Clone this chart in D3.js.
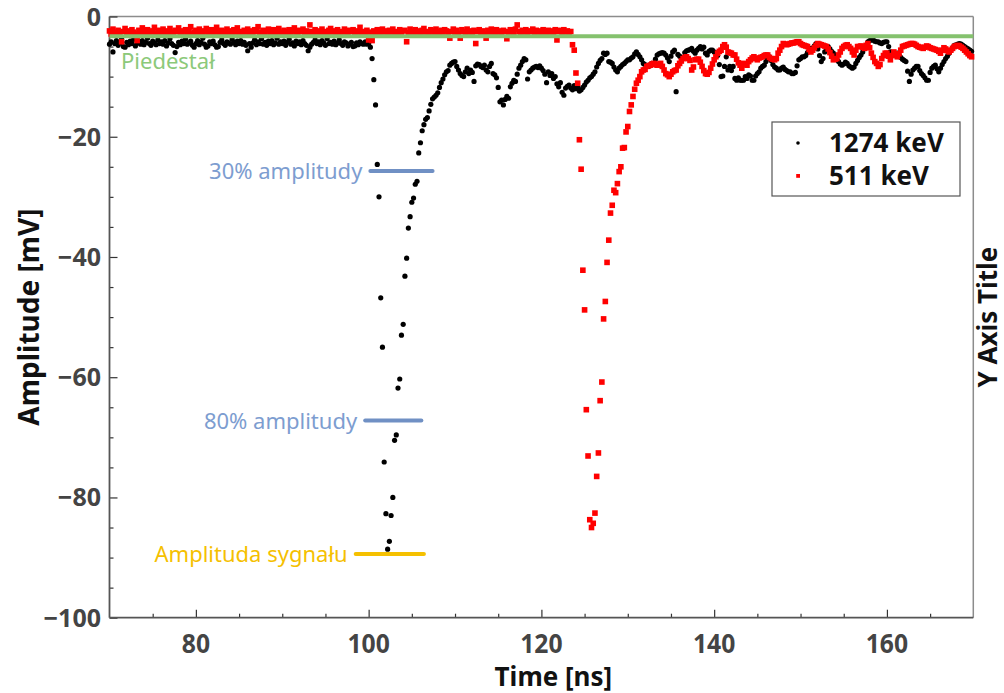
<!DOCTYPE html>
<html>
<head>
<meta charset="utf-8">
<script src="https://cdn.jsdelivr.net/npm/d3@7"></script>
<style>
  body { margin: 0; background: #fff; }
  text { font-family: "Noto Sans", sans-serif; }
</style>
</head>
<body>
<div id="chart"></div>
<script>
// sampling grid (ns) of the digitizer
const tStart = 70;
const tStep = 0.2;

// 1274 keV pulse, amplitude in mV, one value per sample
const signal1274 = [
  -4.6,-4.2,-5.9,-4.5,-4.0,-4.8,-4.4,-3.7,-5.0,-5.1,
  -4.3,-4.7,-4.1,-4.5,-3.8,-4.9,-4.4,-4.2,-4.6,-4.0,
  -4.7,-4.3,-3.6,-4.5,-4.8,-4.1,-4.4,-4.7,-3.9,-4.5,
  -4.2,-4.6,-4.0,-4.9,-4.4,-3.7,-4.5,-4.8,-6.0,-5.0,
  -4.3,-4.7,-4.1,-4.5,-3.8,-4.6,-4.4,-4.1,-4.8,-5.1,
  -4.5,-4.0,-4.7,-4.3,-3.6,-4.6,-5.1,-4.9,-4.2,-4.5,
  -4.1,-4.7,-5.1,-5.0,-4.3,-3.9,-4.5,-4.8,-4.2,-4.4,
  -4.6,-3.8,-4.3,-4.7,-4.1,-4.5,-4.0,-4.6,-4.3,-4.8,
  -5.7,-4.5,-5.1,-4.4,-3.9,-4.7,-4.2,-4.5,-3.7,-4.6,
  -4.3,-4.8,-4.1,-4.5,-4.0,-4.7,-4.4,-3.6,-4.6,-4.2,
  -4.5,-4.1,-4.8,-4.3,-3.8,-4.6,-4.4,-4.9,-4.1,-4.5,
  -4.2,-4.7,-4.0,-4.5,-4.8,-5.7,-5.1,-4.6,-4.3,-3.9,
  -4.5,-4.2,-4.7,-4.0,-4.4,-4.8,-3.7,-4.5,-4.3,-4.6,
  -4.1,-4.7,-4.4,-3.9,-4.5,-4.8,-4.2,-4.4,-4.9,-4.6,
  -4.3,-5.0,-4.9,-4.4,-4.7,-4.2,-4.5,-4.6,-4.2,-4.6,
  -4.5,-5.1,-7.0,-10.5,-14.7,-24.6,-30.0,-46.8,-55.0,-74.1,
  -82.7,-88.6,-87.3,-83.0,-80.0,-70.5,-69.6,-61.8,-60.3,-53.0,
  -51.2,-43.2,-40.2,-35.2,-33.3,-30.9,-30.2,-27.9,-27.4,-22.7,
  -21.0,-19.0,-18.0,-17.1,-16.8,-15.7,-14.6,-13.7,-13.4,-13.1,
  -12.7,-11.8,-11.0,-10.4,-9.7,-9.2,-9.0,-8.1,-7.8,-7.6,
  -7.5,-8.3,-8.9,-9.5,-9.8,-10.0,-9.2,-8.6,-9.5,-8.9,
  -9.3,-10.8,-8.2,-7.9,-8.0,-8.3,-8.5,-8.1,-8.9,-9.2,
  -8.3,-7.8,-9.5,-9.7,-10.2,-11.8,-14.2,-13.9,-14.7,-13.8,
  -13.3,-13.6,-11.7,-11.1,-10.6,-10.8,-9.6,-8.6,-8.1,-7.5,
  -7.0,-7.2,-10.4,-9.2,-8.9,-8.6,-8.4,-8.3,-8.5,-8.2,
  -8.6,-9.0,-9.6,-11.0,-9.2,-9.8,-9.5,-10.3,-10.0,-11.2,
  -11.7,-11.0,-12.6,-13.1,-11.9,-11.6,-11.4,-11.9,-12.2,-11.5,
  -12.0,-11.7,-12.4,-12.2,-11.8,-11.4,-10.9,-10.6,-10.2,-10.0,
  -9.6,-9.2,-8.4,-7.8,-7.3,-7.0,-6.1,-6.3,-6.1,-7.5,
  -7.6,-7.8,-8.4,-8.9,-9.2,-8.6,-8.3,-8.0,-7.8,-7.5,
  -7.2,-7.2,-6.9,-6.7,-6.2,-5.9,-6.3,-6.7,-7.2,-7.8,
  -8.0,-8.3,-8.3,-8.0,-7.8,-7.8,-7.1,-6.4,-6.2,-6.1,
  -6.0,-6.1,-6.4,-6.9,-7.5,-6.6,-5.9,-5.6,-12.5,-6.3,
  -6.6,-6.9,-7.0,-6.0,-5.7,-5.6,-5.5,-5.3,-5.8,-6.1,
  -5.6,-5.3,-5.0,-5.4,-5.1,-6.1,-6.4,-5.8,-5.6,-5.6,
  -5.9,-6.1,-6.5,-8.0,-10.0,-9.9,-8.3,-6.7,-8.9,-8.3,
  -9.0,-8.3,-10.3,-10.6,-10.2,-10.6,-10.6,-10.6,-10.0,-10.3,
  -9.7,-9.9,-10.6,-10.6,-9.9,-9.5,-9.2,-8.6,-8.3,-8.1,
  -7.5,-7.0,-6.7,-7.3,-8.0,-8.4,-8.6,-8.9,-8.9,-8.6,
  -8.4,-8.8,-9.0,-9.2,-9.2,-9.5,-9.5,-9.3,-8.2,-7.2,
  -7.0,-6.7,-6.7,-6.5,-6.0,-5.6,-5.3,-5.3,-4.9,-4.5,
  -5.4,-6.5,-7.5,-7.0,-5.9,-5.3,-5.0,-5.4,-5.8,-6.1,
  -6.6,-7.1,-7.5,-7.9,-8.1,-7.9,-7.6,-7.8,-8.2,-8.4,
  -8.6,-8.4,-7.8,-7.3,-6.8,-6.4,-5.9,-5.3,-4.8,-4.2,
  -4.0,-3.9,-3.9,-4.1,-4.2,-4.2,-4.4,-4.5,-4.3,-4.2,
  -4.2,-5.0,-5.9,-6.0,-6.4,-6.3,-6.1,-6.4,-6.8,-7.1,
  -7.3,-7.5,-9.1,-10.8,-9.6,-8.9,-8.6,-8.3,-8.3,-9.0,
  -9.5,-9.8,-10.2,-10.6,-10.6,-9.3,-8.6,-8.3,-8.1,-8.7,
  -9.2,-8.6,-8.0,-7.5,-7.0,-6.6,-6.1,-5.6,-5.2,-4.8,
  -4.7,-4.6,-4.5,-4.6,-4.8,-5.0,-5.2,-5.4,-5.6,-5.8
];

// 511 keV pulse, amplitude in mV, one value per sample
const signal511 = [
  -2.4,-2.9,-2.1,-2.6,-3.0,-2.3,-2.7,-4.2,-2.5,-2.0,
  -2.8,-2.4,-3.1,-2.2,-2.6,-2.9,-4.0,-2.3,-2.7,-1.9,
  -2.5,-2.8,-2.2,-3.0,-2.4,-2.6,-1.8,-2.9,-2.5,-2.3,
  -2.7,-2.1,-3.1,-2.4,-2.8,-2.0,-2.6,-2.9,-2.3,-2.5,
  -1.9,-2.7,-3.0,-2.4,-2.2,-2.8,-2.5,-1.7,-2.9,-2.6,
  -2.3,-2.8,-2.1,-2.6,-3.0,-2.4,-2.0,-2.7,-2.5,-2.2,
  -2.9,-2.4,-1.8,-2.6,-2.8,-2.3,-3.1,-2.5,-2.1,-2.7,
  -2.4,-2.9,-2.2,-2.6,-1.9,-2.8,-2.5,-3.0,-2.3,-2.6,
  -2.1,-2.7,-2.4,-2.9,-2.2,-2.5,-1.7,-2.8,-2.6,-2.3,
  -3.0,-2.4,-2.1,-2.7,-2.5,-2.2,-2.9,-2.4,-2.0,-2.6,
  -2.8,-2.3,-2.5,-3.1,-2.2,-2.7,-2.4,-1.9,-2.6,-2.9,
  -2.3,-2.5,-2.1,-2.8,-2.4,-2.7,-1.4,-2.5,-3.0,-2.2,
  -2.6,-2.4,-2.8,-2.1,-2.7,-2.5,-2.9,-2.3,-2.0,-2.6,
  -2.4,-2.8,-2.2,-2.7,-3.0,-2.5,-2.1,-2.6,-2.9,-2.3,
  -2.5,-2.2,-2.8,-2.4,-2.6,-1.8,-2.7,-2.5,-3.0,-2.3,
  -3.9,-2.6,-4.0,-2.4,-2.8,-2.2,-2.5,-2.9,-2.1,-2.6,
  -2.4,-2.8,-2.3,-2.6,-2.1,-2.7,-2.5,-2.9,-2.2,-2.6,
  -2.4,-2.3,-4.2,-2.7,-2.1,-2.5,-2.8,-2.2,-2.6,-2.4,
  -2.9,-2.3,-2.0,-2.6,-2.5,-2.8,-2.2,-2.4,-2.7,-2.1,
  -2.5,-2.8,-2.3,-2.6,-2.2,-2.4,-2.9,-3.6,-2.5,-2.1,
  -2.6,-2.3,-2.8,-3.6,-2.2,-2.5,-2.7,-2.1,-2.6,-2.4,
  -2.8,-2.3,-4.5,-2.5,-2.2,-2.7,-2.4,-2.9,-3.6,-2.3,
  -2.6,-2.1,-2.5,-2.8,-2.2,-2.6,-2.4,-2.9,-2.3,-2.5,
  -3.7,-2.6,-2.2,-2.4,-2.8,-2.1,-1.4,-2.5,-2.7,-2.3,
  -2.6,-2.2,-2.8,-2.4,-2.5,-2.1,-2.7,-2.3,-2.6,-2.4,
  -2.8,-2.2,-2.5,-2.7,-2.3,-2.6,-2.4,-2.9,-2.2,-3.9,
  -2.5,-2.3,-2.7,-2.2,-2.6,-2.4,-2.8,-2.5,-4.7,-5.6,
  -9.4,-11.1,-20.5,-25.4,-42.2,-48.8,-65.4,-73.1,-83.7,-85.0,
  -84.3,-82.6,-76.5,-72.6,-63.9,-60.8,-50.3,-47.4,-40.9,-37.2,
  -32.7,-31.4,-28.9,-29.3,-27.8,-25.8,-25.0,-21.9,-21.8,-19.2,
  -18.3,-15.8,-14.7,-13.3,-12.1,-11.1,-10.6,-10.0,-9.2,-8.9,
  -8.8,-8.3,-8.2,-8.1,-7.9,-7.8,-8.0,-8.1,-7.9,-7.8,
  -8.3,-8.9,-9.5,-9.7,-10.0,-9.6,-9.2,-9.0,-8.9,-8.2,
  -7.8,-7.4,-7.0,-6.8,-6.7,-7.0,-7.3,-8.9,-8.4,-7.2,
  -7.1,-7.1,-7.6,-8.3,-9.0,-9.5,-9.6,-9.3,-8.6,-7.9,
  -7.2,-6.7,-6.1,-5.8,-5.6,-5.0,-4.7,-5.1,-5.9,-6.0,
  -6.1,-6.4,-6.4,-7.1,-7.7,-8.1,-8.6,-7.8,-7.9,-8.1,
  -7.5,-7.2,-6.9,-6.7,-7.0,-7.2,-6.9,-6.8,-6.7,-6.5,
  -6.4,-6.4,-6.8,-7.0,-7.1,-7.2,-7.0,-6.1,-5.6,-5.0,
  -4.5,-4.6,-4.7,-4.6,-4.5,-4.4,-4.4,-4.3,-4.2,-4.2,
  -4.5,-4.7,-4.8,-4.9,-5.0,-5.5,-5.9,-5.6,-5.2,-4.8,
  -4.5,-4.6,-4.7,-4.8,-4.9,-5.0,-5.4,-6.0,-6.6,-7.2,
  -7.1,-7.0,-6.4,-5.9,-5.3,-5.0,-4.8,-4.7,-5.0,-5.3,
  -5.9,-6.4,-5.6,-5.0,-5.0,-4.9,-5.1,-5.3,-4.8,-4.5,
  -5.2,-6.1,-6.8,-7.5,-7.8,-8.3,-8.0,-7.0,-6.5,-6.1,
  -6.1,-6.6,-7.2,-6.5,-5.9,-6.2,-6.7,-6.2,-5.6,-5.0,
  -4.9,-4.8,-4.7,-4.6,-4.5,-4.5,-4.6,-4.8,-5.0,-5.1,
  -5.2,-5.3,-5.1,-4.9,-5.0,-5.2,-5.3,-5.4,-5.5,-5.6,
  -5.8,-6.1,-5.6,-5.2,-5.4,-5.7,-5.9,-5.6,-5.3,-5.0,
  -4.9,-4.8,-4.9,-5.1,-5.3,-5.6,-5.9,-6.2,-6.5,-6.7
];

const seriesNames = ["1274 keV", "511 keV"];

// pedestal and amplitude markers (mV) with their time span (ns)
const pedestal = -3.3;
const levelNames = ["30% amplitudy", "80% amplitudy", "Amplituda sygnału"];
const levelValues = [-25.7, -67.2, -89.4];
const levelFrom = [100.2, 99.6, 98.5];
const levelTo = [107.4, 106.1, 106.4];

// axes
const xDomain = [70, 170];
const yDomain = [-100, 0];
const xMajor = [80, 100, 120, 140, 160];
const xMinor = [75, 85, 90, 95, 105, 110, 115, 125, 130, 135, 145, 150, 155, 165];
const yMajor = [0, -20, -40, -60, -80, -100];
const yMinor = [-5, -10, -15, -25, -30, -35, -45, -50, -55, -65, -70, -75, -85, -90, -95];

function renderChart() {
  const width = 1004, height = 693;
  const pLeft = 109.5, pRight = 973.3, pTop = 16.5, pBottom = 617.7;

  const svg = d3.select("#chart").append("svg")
    .attr("width", width)
    .attr("height", height);

  const x = d3.scaleLinear().domain(xDomain).range([pLeft, pRight]);
  const y = d3.scaleLinear().domain(yDomain).range([pBottom, pTop]);
  const fmt = d3.format("");

  // frame (top / right are lighter)
  svg.append("line").attr("x1", pLeft).attr("x2", pRight).attr("y1", pTop).attr("y2", pTop)
    .attr("stroke", "#8c8c8c").attr("stroke-width", 1.5);
  svg.append("line").attr("x1", pRight).attr("x2", pRight).attr("y1", pTop).attr("y2", pBottom)
    .attr("stroke", "#8c8c8c").attr("stroke-width", 1.5);

  // ticks point inward
  const gx = svg.append("g").attr("transform", `translate(0,${pBottom})`);
  gx.append("g").call(d3.axisBottom(x).tickValues(xMinor).tickSize(-4).tickFormat(""));
  gx.append("g").call(d3.axisBottom(x).tickValues(xMajor).tickSize(-8).tickFormat(""));
  gx.selectAll(".domain").remove();
  gx.selectAll(".tick line").attr("stroke", "#333").attr("stroke-width", 1.2);

  const gy = svg.append("g").attr("transform", `translate(${pLeft},0)`);
  gy.append("g").call(d3.axisLeft(y).tickValues(yMinor).tickSize(-4).tickFormat(""));
  gy.append("g").call(d3.axisLeft(y).tickValues(yMajor).tickSize(-8).tickFormat(""));
  gy.selectAll(".domain").remove();
  gy.selectAll(".tick line").attr("stroke", "#333").attr("stroke-width", 1.2);

  // axis lines
  svg.append("line").attr("x1", pLeft).attr("x2", pRight).attr("y1", pBottom).attr("y2", pBottom)
    .attr("stroke", "#555").attr("stroke-width", 1.8);
  svg.append("line").attr("x1", pLeft).attr("x2", pLeft).attr("y1", pTop).attr("y2", pBottom)
    .attr("stroke", "#555").attr("stroke-width", 1.8);

  // tick labels
  svg.selectAll(".xlab").data(xMajor).enter().append("text")
    .attr("transform", d => `translate(${x(d)},653) scale(0.95,1)`)
    .attr("text-anchor", "middle")
    .style("font-size", "26px").style("font-weight", "bold").style("fill", "#444")
    .text(d => fmt(d));

  svg.selectAll(".ylab").data(yMajor).enter().append("text")
    .attr("x", 101).attr("y", d => y(d) + 9)
    .attr("text-anchor", "end")
    .style("font-size", "25px").style("font-weight", "bold").style("fill", "#444")
    .text(d => fmt(d));

  // axis titles
  svg.append("text")
    .attr("x", (pLeft + pRight) / 2 + 12).attr("y", 686)
    .attr("text-anchor", "middle")
    .style("font-size", "26px").style("font-weight", "bold").style("fill", "#111")
    .text("Time [ns]");

  svg.append("text")
    .attr("transform", `translate(39,${(pTop + pBottom) / 2}) rotate(-90)`)
    .attr("text-anchor", "middle")
    .style("font-size", "28px").style("font-weight", "bold").style("fill", "#111")
    .text("Amplitude [mV]");

  svg.append("text")
    .attr("transform", `translate(997,${(pTop + pBottom) / 2}) rotate(-90)`)
    .attr("text-anchor", "middle")
    .style("font-size", "26px").style("font-weight", "bold").style("fill", "#111")
    .text("Y Axis Title");

  // data points
  const plot = svg.append("g");

  plot.selectAll(".p1274").data(signal1274).enter().append("circle")
    .attr("cx", (d, i) => x(tStart + i * tStep))
    .attr("cy", d => y(d))
    .attr("r", 2.6)
    .attr("fill", "#000");

  plot.selectAll(".p511").data(signal511).enter().append("rect")
    .attr("x", (d, i) => x(tStart + i * tStep) - 2.8)
    .attr("y", d => y(d) - 2.8)
    .attr("width", 5.6).attr("height", 5.6)
    .attr("fill", "#ff0000");

  // pedestal line
  svg.append("line")
    .attr("x1", x(xDomain[0])).attr("x2", x(xDomain[1]))
    .attr("y1", y(pedestal)).attr("y2", y(pedestal))
    .attr("stroke", "#85c26e").attr("stroke-width", 4);

  svg.append("text")
    .attr("x", 121).attr("y", y(pedestal) + 33)
    .style("font-size", "22px").style("fill", "#8cc97a")
    .text("Piedestał");

  // amplitude markers
  const levelColors = ["#7090c4", "#7090c4", "#f5c000"];
  const levelText = ["#7d9dd0", "#7d9dd0", "#f5c000"];
  levelNames.forEach((name, i) => {
    svg.append("line")
      .attr("x1", x(levelFrom[i])).attr("x2", x(levelTo[i]))
      .attr("y1", y(levelValues[i])).attr("y2", y(levelValues[i]))
      .attr("stroke", levelColors[i]).attr("stroke-width", 4)
      .attr("stroke-linecap", "round");
    svg.append("text")
      .attr("x", x(levelFrom[i]) - 8).attr("y", y(levelValues[i]) + 8)
      .attr("text-anchor", "end")
      .style("font-size", "22px").style("fill", levelText[i])
      .text(name);
  });

  // legend
  const lg = svg.append("g").attr("transform", "translate(772,122)");
  lg.append("rect").attr("width", 188).attr("height", 74)
    .attr("fill", "#fff").attr("stroke", "#555").attr("stroke-width", 1.2);
  lg.append("circle").attr("cx", 26).attr("cy", 21).attr("r", 1.8).attr("fill", "#000");
  lg.append("rect").attr("x", 24.2).attr("y", 52).attr("width", 3.8).attr("height", 3.8).attr("fill", "#ff0000");
  lg.selectAll(".lt").data(seriesNames).enter().append("text")
    .attr("x", 57).attr("y", (d, i) => 30 + i * 33)
    .style("font-size", "26px").style("font-weight", "bold").style("fill", "#111")
    .text(d => d);
}

renderChart();
</script>
</body>
</html>
